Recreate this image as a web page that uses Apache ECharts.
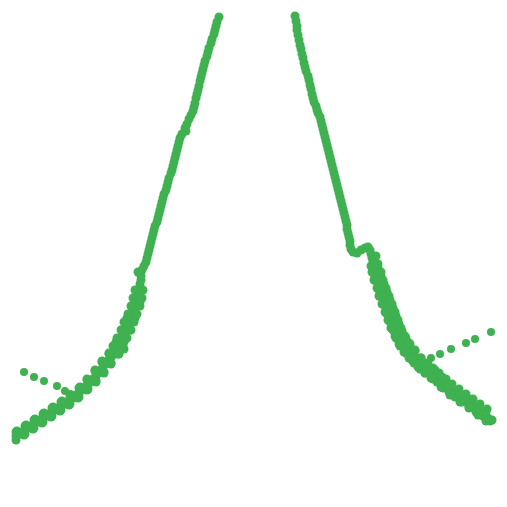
<!DOCTYPE html>
<html>
<head>
<meta charset="utf-8">
<script src="https://cdn.jsdelivr.net/npm/echarts@6/dist/echarts.min.js"></script>
<style>html,body{margin:0;padding:0;background:#fff}#c{width:507px;height:507px}</style>
</head>
<body>
<div id="c"></div>
<script>
// Peak, left flank (x, y)
const peakLeft = [
[205,480],[204,475],[202,470],[201,466],[200,462],[199,458],[197,453],[196,449],[194,444],[193,440],
[192,436],[190,431],[189,427],[188,423],[187,419],[186,415],[185,411],[184,406],[183,402],[182,398],
[181,394],[180,389],[179,385],[178,381],[176,377],[174,373],[172,368],[170,364],[171,361],[167,358],
[165,354],[164,350],[163,346],[162,342],[161,338],[160,334],[159,330],[158,326],[157,322],[156,319],
[154,314],[153,310],[152,306],[151,302],[149,298],[148,294],[147,290],[146,286],[145,282],[144,278],
[143,274],[142,270],[140,266],[139,262],[138,258],[137,254],[136,250],[135,246],[134,242],[133,238],
[132,234],[131,230],[129,226],[127,222],[123,220],[126,216],[126,212],[125,208],[125,204],[124,200],
[123,196],[122,192],[121,188],[120,184],[118,180],[117,176],[115,172],[113,168],[112,164],[110,160],
[108,156],[106,152],[104,148],[102,144],[109,143],[100,140],[97,136],[95,134],[93,131],[90,128],
[88,125],[86,122],[83,119],[81,116],[78,113],[75,110],[73,107],[70,105],[67,102],[64,99],
[61,97],[58,94],[55,92],[52,90],[49,88],[46,86],[43,84],[40,82],[37,80],[34,78],
[31,76],[28,74],[25,72],[22,70],[19,68],[16,66],[13,64],[10,62],[7,60],[4,58],[1,56],[-2,54],
[117,186],[112,174],[107,162],[101,150],[94,138],[87,130],[80,121],[72,112],[64,104],[55,96],
[46,90],[37,84],[28,78],[19,72],[10,66],[1,60],
[125,190],[120,174],[115,162],[109,150],[103,138],[96,129],[89,120],[81,111],[73,103],[64,95],
[55,88],[46,82],[37,76],[28,70],[19,64],[10,58],[1,52],
[120,202],[118,194],[116,186],[113,178],[109,170],[106,162],[102,154],[98,146],[94,139],[87,131],
[80,122],[72,113],[65,105],[56,97],[47,91],[38,85],[29,79],[20,73],[11,67],[2,61],
[128,202],[127,194],[125,186],[122,178],[119,170],[116,162],[112,154],[108,146],[104,138],[96,128],
[89,119],[81,110],[72,102],[63,94],[54,87],[45,81],[36,75],[27,69],[18,63],[9,57]
];
// Peak, right flank (x, y)
const peakRight = [
[279,481],[280,476],[281,471],[282,466],[282,462],[283,457],[284,452],[285,447],[286,443],[287,438],
[288,434],[289,429],[290,425],[291,421],[293,416],[294,412],[295,407],[296,403],[297,398],[298,394],
[299,390],[301,386],[302,382],[303,379],[305,375],[306,371],[307,367],[308,363],[309,359],[310,355],
[311,351],[312,347],[313,343],[314,339],[315,335],[316,331],[317,327],[318,323],[319,319],[320,315],
[321,311],[322,307],[323,303],[324,299],[325,295],[326,291],[327,287],[328,283],[329,279],[330,275],
[331,271],[332,267],[332,263],[333,259],[334,255],[335,251],[335,247],[336,243],[338,240],[342,239],
[346,242],[350,244],[353,245],[355,242],[356,238],[357,234],[358,230],[359,226],[361,222],[362,218],
[363,214],[364,210],[366,206],[367,202],[368,198],[370,194],[371,190],[373,186],[374,182],[376,178],
[377,174],[379,170],[380,166],[382,162],[384,158],[386,154],[388,150],[391,146],[394,142],[397,139],
[400,135],[403,131],[406,128],[410,125],[413,122],[417,119],[421,116],[425,112],[429,108],[433,104],
[438,100],[442,97],[447,93],[452,90],[456,87],[461,83],[465,80],[469,77],[473,74],[477,72],[481,69],
[363,224],[366,216],[369,208],[372,200],[375,192],[378,184],[381,176],[384,168],[387,161],[391,154],
[395,148],[400,141],[406,134],[412,129],[418,124],[424,119],[431,113],[437,108],[444,103],[451,98],
[458,93],[465,88],[472,83],[479,78],
[356,226],[359,218],[362,210],[364,202],[367,194],[370,186],[372,178],[375,170],[378,162],[381,154],
[385,146],[389,140],[394,134],[399,129],[405,123],[410,119],[416,114],[422,110],[428,104],[434,100],
[440,95],[447,90],[454,85],[461,80],[468,76],[475,71],
[357,220],[359,212],[362,204],[364,196],[367,188],[370,180],[373,172],[376,164],[380,156],[384,148],
[391,139],[397,132],[403,125],[410,119],[418,113],[426,105],[435,97],[445,90],[454,84],[463,77],[471,71],
[361,236],[363,228],[366,220],[368,212],[371,204],[374,196],[377,188],[380,180],[383,172],[386,164],
[390,156],[394,149],[400,142],[406,134],[413,128],[420,122],[427,115],[435,107],[444,100],[454,93],
[463,86],[471,80],[479,75]
];
// Baseline points (x, y)
const baseLeft = [[9,120],[19,115],[29,111],[42,106],[50,101],[55,98]];
const baseRight = [[416,134],[425,138],[436,143],[451,149],[460,153],[476,160]];

const green = '#3fb150';
const chart = echarts.init(document.getElementById('c'), null, {renderer: 'canvas'});
chart.setOption({
  animation: false,
  backgroundColor: '#ffffff',
  grid: {left: 15, right: 15, top: 15, bottom: 15},
  xAxis: {type: 'value', min: 0, max: 477, show: false},
  yAxis: {type: 'value', min: 0, max: 477, show: false},
  series: [
    {type: 'scatter', data: baseLeft.concat(baseRight), symbolSize: 8, itemStyle: {color: green, opacity: 1}, clip: true},
    {type: 'scatter', data: peakLeft, symbolSize: 9, itemStyle: {color: green, opacity: 1}, clip: true},
    {type: 'scatter', data: peakRight, symbolSize: 9, itemStyle: {color: green, opacity: 1}, clip: true}
  ]
});
</script>
</body>
</html>
